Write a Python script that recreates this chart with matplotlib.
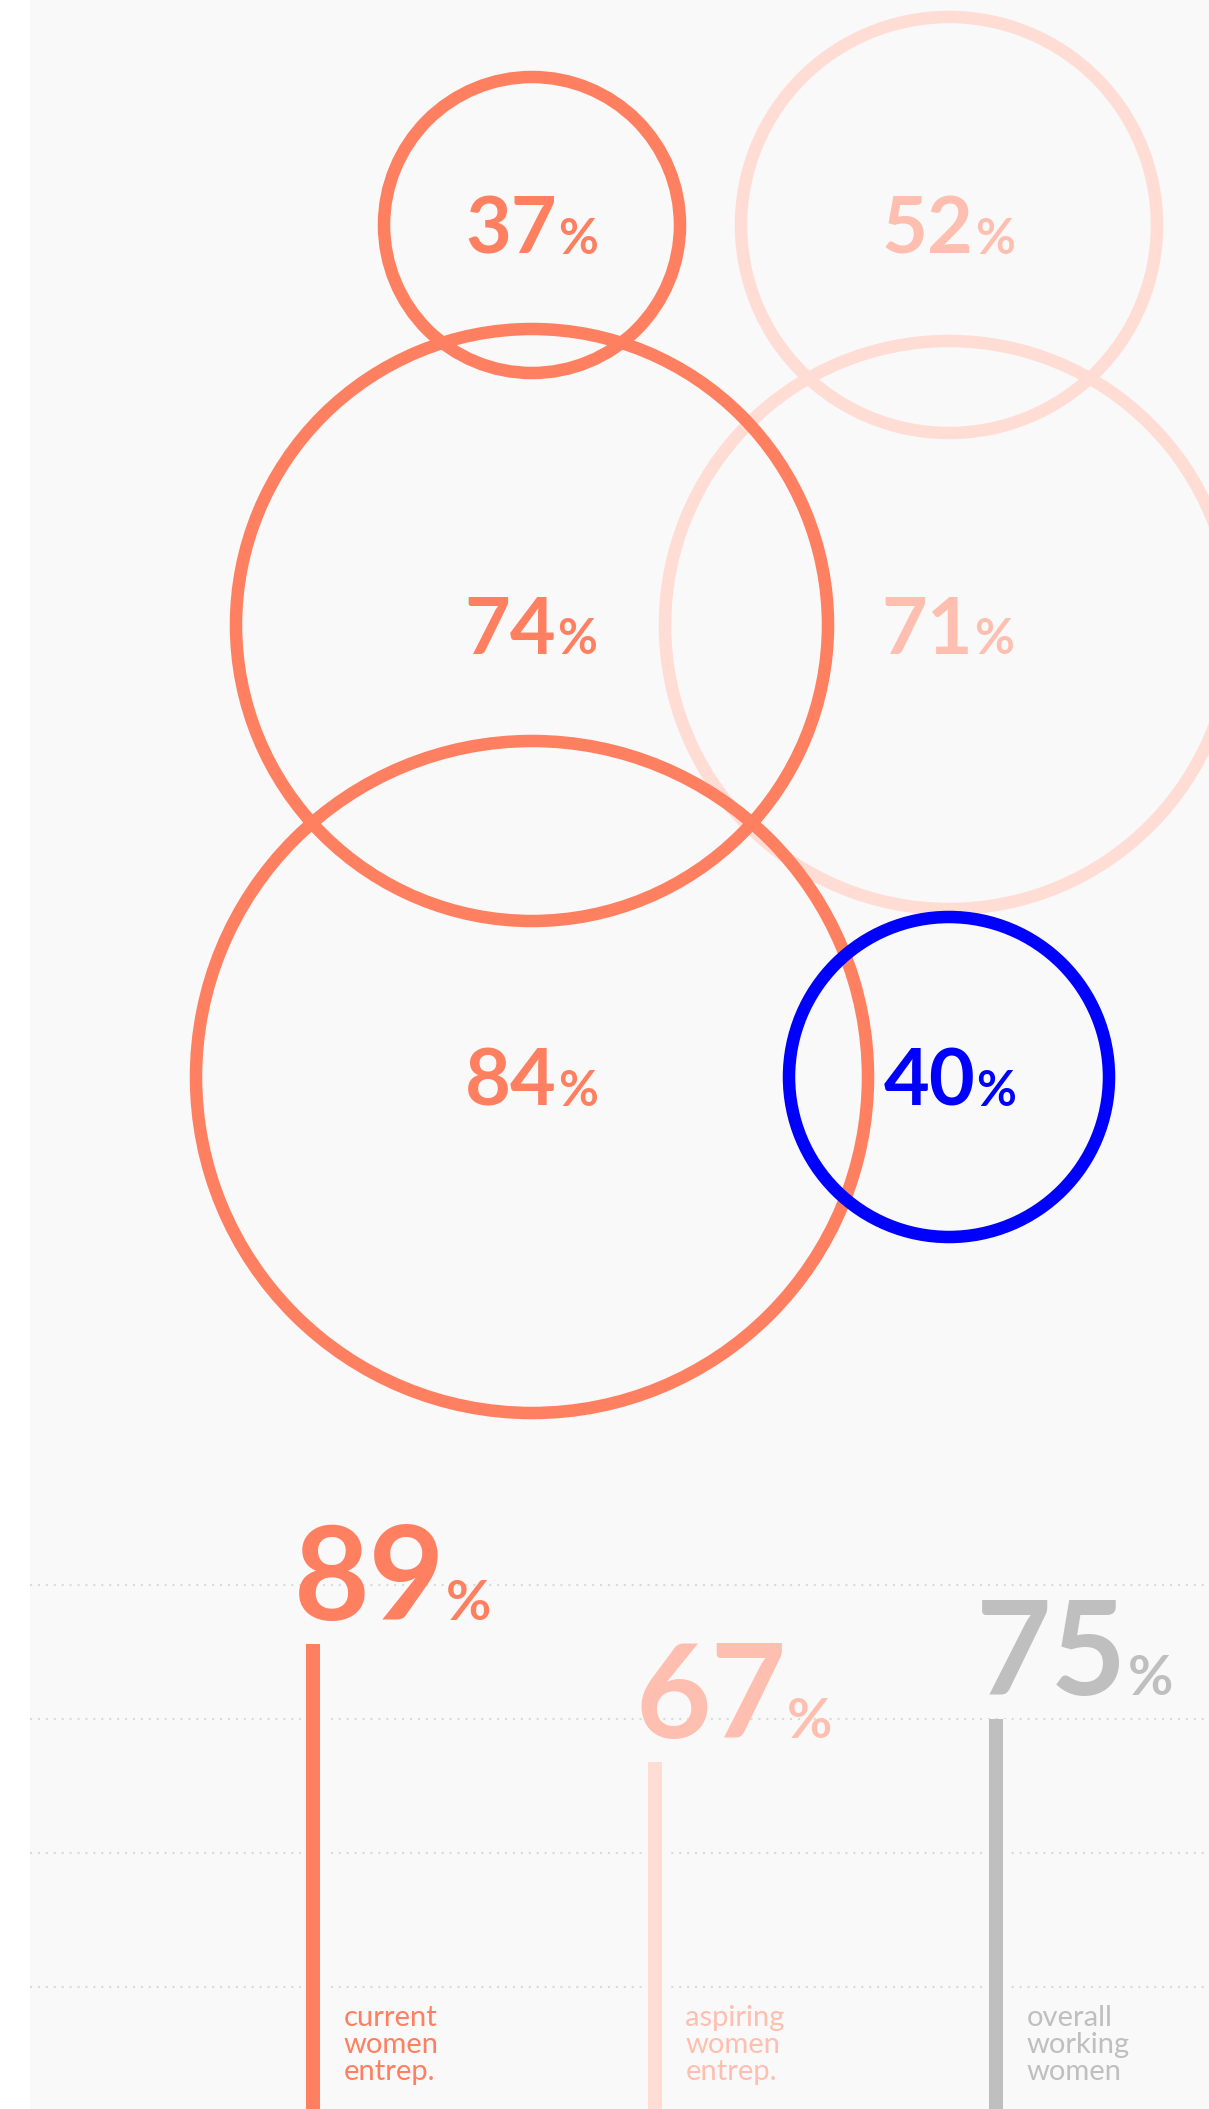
import matplotlib
matplotlib.use("Agg")
import matplotlib.pyplot as plt
from matplotlib.patches import Circle, Rectangle
from matplotlib.textpath import TextPath
from matplotlib.font_manager import FontProperties
import matplotlib.transforms as mtransforms

# ---------------- data ----------------
bubble_left_values = [37, 74, 84]      # current women entrepreneurs
bubble_right_values = [52, 71, 40]     # aspiring (rows 1-2), overall (row 3)
bar_labels = ["current\nwomen\nentrep.", "aspiring\nwomen\nentrep.", "overall\nworking\nwomen"]
bar_values = [89, 67, 75]
grid_values = [25, 50, 75, 100]

# ---------------- style ----------------
CORAL = "#FF7F61"
PINK_LINE = "#FFDDD5"
PINK_TEXT = "#FFBFB0"
GRAY = "#BFBFBF"
BLUE = "#0000FF"
BG = "#F9F9F9"
GRID = "#DADADA"
FONT = "Lato"

left_line_colors = [CORAL, CORAL, CORAL]
left_text_colors = [CORAL, CORAL, CORAL]
right_line_colors = [PINK_LINE, PINK_LINE, BLUE]
right_text_colors = [PINK_TEXT, PINK_TEXT, BLUE]
bar_colors = [CORAL, PINK_LINE, GRAY]
bar_text_colors = [CORAL, PINK_TEXT, GRAY]

W, H, DPI = 1209, 2109, 100
COL_X = [532, 949]
ROW_Y = [225, 625, 1077]
R_PER_PCT = 4.0

fig = plt.figure(figsize=(W / DPI, H / DPI), dpi=DPI)
fig.patch.set_facecolor("white")

ax = fig.add_axes([0, 0, 1, 1])
ax.set_xlim(0, W)
ax.set_ylim(H, 0)
ax.axis("off")
ax.add_patch(Rectangle((30, 0), W - 30, H, facecolor=BG, edgecolor="none", zorder=0))

# bubbles
for i, v in enumerate(bubble_right_values):
    ax.add_patch(Circle((COL_X[1], ROW_Y[i]), v * R_PER_PCT, fill=False,
                        edgecolor=right_line_colors[i], lw=9, zorder=2 if i < 2 else 4))
for i, v in enumerate(bubble_left_values):
    ax.add_patch(Circle((COL_X[0], ROW_Y[i]), v * R_PER_PCT, fill=False,
                        edgecolor=left_line_colors[i], lw=9, zorder=3))

# bar axes
BAR_TOP_PX = 1480
ZERO_PX = 2121
PX_PER_PCT = 5.36
BAR_X0 = 313
BAR_STEP = 341.5
bax = fig.add_axes([0, 0, 1, (H - BAR_TOP_PX) / H])
bax.patch.set_alpha(0)
bax.axis("off")
bax.set_ylim((ZERO_PX - H) / PX_PER_PCT, (ZERO_PX - BAR_TOP_PX) / PX_PER_PCT)
bax.set_xlim((0 - BAR_X0) / BAR_STEP, (W - BAR_X0) / BAR_STEP)
xs = list(range(len(bar_values)))
for g in grid_values:
    bax.axhline(g, xmin=30 / W, xmax=1, color=GRID, lw=1.5, ls=(0, (1, 2.8)), zorder=1)
bax.bar(xs, bar_values, width=24 / BAR_STEP, color=BG, zorder=2)
bax.bar(xs, bar_values, width=14 / BAR_STEP, color=bar_colors, zorder=3)

ident = mtransforms.IdentityTransform()
px = DPI / 72.0
renderer = fig.canvas.get_renderer()


def ink(s, fp):
    bb = TextPath((0, 0), s, prop=fp).get_extents()
    return bb.x0 * px, bb.y0 * px, bb.x1 * px, bb.y1 * px


def number_label(num, color, fs_num, fs_pct, left=None, center=None, baseline=None, vcenter=None):
    fpn = FontProperties(family=FONT, weight="bold", size=fs_num)
    fpp = FontProperties(family=FONT, weight="bold", size=fs_pct)
    nx0, ny0, nx1, ny1 = ink(num, fpn)
    px0, py0, px1, py1 = ink("%", fpp)
    adv_n = renderer.get_text_width_height_descent(num, fpn, ismath=False)[0]
    # positions relative to number text origin
    pct_origin = adv_n + 1
    ink_left = nx0
    ink_right = pct_origin + px1
    if left is None:
        origin = center - (ink_left + ink_right) / 2
    else:
        origin = left - nx0
    if baseline is None:
        baseline = vcenter - (ny0 + ny1) / 2
    fig.text(origin, baseline, num, fontproperties=fpn, color=color,
             transform=ident, ha="left", va="baseline", zorder=6)
    fig.text(origin + pct_origin, baseline, "%", fontproperties=fpp, color=color,
             transform=ident, ha="left", va="baseline", zorder=6)


# bubble labels
for i, v in enumerate(bubble_left_values):
    number_label(str(v), left_text_colors[i], 57, 35, center=COL_X[0], vcenter=H - ROW_Y[i])
for i, v in enumerate(bubble_right_values):
    number_label(str(v), right_text_colors[i], 57, 35, center=COL_X[1], vcenter=H - ROW_Y[i])

# bar labels
fig.canvas.draw()
for i, v in enumerate(bar_values):
    bx, by = bax.transData.transform((i, v))
    number_label(str(v), bar_text_colors[i], 94, 40, left=bx - 14, baseline=by + 24)
    cx, _ = bax.transData.transform((i, 0))
    for j, line in enumerate(bar_labels[i].split("\n")):
        fig.text(cx + 31, H - (2026 + 27 * j), line, color=bar_text_colors[i],
                 fontproperties=FontProperties(family=FONT, size=21),
                 transform=ident, ha="left", va="baseline", zorder=6)

fig.savefig("out.png", dpi=DPI, facecolor=fig.get_facecolor())
